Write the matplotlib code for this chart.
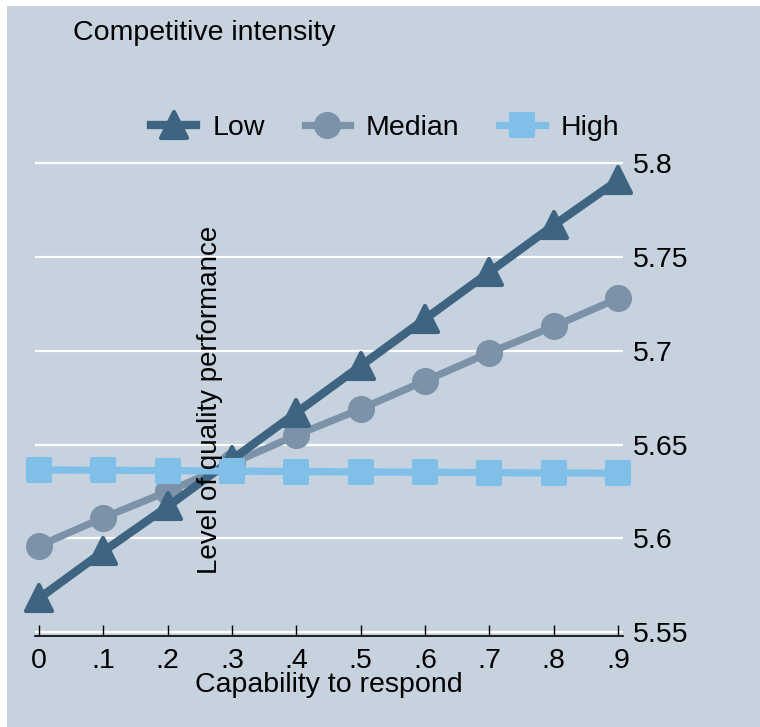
import matplotlib
matplotlib.use("Agg")
import matplotlib.pyplot as plt
from matplotlib.markers import MarkerStyle
from matplotlib.patches import Rectangle

# ##### Data
capability = [0, .1, .2, .3, .4, .5, .6, .7, .8, .9]
tick_labels = ["0", ".1", ".2", ".3", ".4", ".5", ".6", ".7", ".8", ".9"]

low = [5.568, 5.593, 5.617, 5.642, 5.667, 5.692, 5.717, 5.742, 5.767, 5.791]
median = [5.596, 5.611, 5.625, 5.640, 5.655, 5.669, 5.684, 5.699, 5.713, 5.728]
high = [5.6365, 5.6363, 5.6361, 5.6359, 5.6356, 5.6354, 5.6353, 5.6350, 5.6349, 5.6347]

y_ticks = [5.55, 5.6, 5.65, 5.7, 5.75, 5.8]
y_tick_labels = ["5.55", "5.6", "5.65", "5.7", "5.75", "5.8"]

# Colours
bg = "#c6d3df"
c_low = "#3e6481"
c_median = "#7b92a9"
c_high = "#80bfe8"

fs = 20.5


def plotchart():
    plt.rcParams['font.family'] = ['Liberation Sans', 'DejaVu Sans']

    fig = plt.figure(figsize=(7.6, 7.27), dpi=100)
    fig.patch.set_facecolor("white")
    # blue panel with the thin white strip at the top and left
    fig.patches.append(Rectangle((7 / 760, 0), 1, 1 - 6 / 727, transform=fig.transFigure,
                                 facecolor=bg, edgecolor="none", zorder=-5))

    ax = fig.add_axes([35 / 760, 91 / 727, 588 / 760, 482 / 727])
    ax.set_zorder(2)
    ax.set_facecolor("none")

    tri = MarkerStyle("^", joinstyle="round")
    circ = MarkerStyle("o")
    sq = MarkerStyle("s", joinstyle="round")

    ax.plot(capability, low, color=c_low, lw=6, marker=tri, ms=18.5, mew=3,
            mec=c_low, mfc=c_low, label="Low", zorder=4, solid_joinstyle="round", clip_on=False)
    ax.plot(capability, median, color=c_median, lw=5.2, marker=circ, ms=19.5, mew=0,
            mfc=c_median, label="Median", zorder=3, clip_on=False)
    ax.plot(capability, high, color=c_high, lw=5.2, marker=sq, ms=16.5, mew=3,
            mec=c_high, mfc=c_high, label="High", zorder=5, clip_on=False)

    ax.set_xlim(-0.0062, 0.9078)
    ax.set_ylim(5.5479, 5.805)

    # grid
    ax.set_yticks(y_ticks)
    ax.set_yticklabels(y_tick_labels)
    for y in y_ticks:
        ax.axhline(y, color="white", lw=1.6, zorder=1)

    ax.yaxis.tick_right()
    ax.tick_params(axis="y", length=0, labelsize=fs, pad=7)
    ax.set_xticks(capability)
    ax.set_xticklabels(tick_labels)
    ax.tick_params(axis="x", direction="in", length=8, width=1, labelsize=fs, pad=9)

    for side in ["top", "right", "left"]:
        ax.spines[side].set_visible(False)
    ax.spines["bottom"].set_linewidth(1.2)

    ax.legend(loc="center", bbox_to_anchor=(385 / 760, 1 - 128 / 727), bbox_transform=fig.transFigure,
              ncol=3, frameon=False, fontsize=fs, handlelength=1.6, columnspacing=1.4,
              handletextpad=0.55, markerscale=1.0)

    fig.text(73 / 760, 1 - 33 / 727, "Competitive intensity", fontsize=fs, va="center", ha="left")
    fig.text(210 / 760, 1 - 400 / 727, "Level of quality performance", fontsize=20,
             rotation=90, va="center", ha="center")
    fig.text(329 / 760, 1 - 685 / 727, "Capability to respond", fontsize=fs, va="center", ha="center")

    fig.savefig("out.png", dpi=100)


def main():
    plotchart()


if __name__ == "__main__":
    main()
